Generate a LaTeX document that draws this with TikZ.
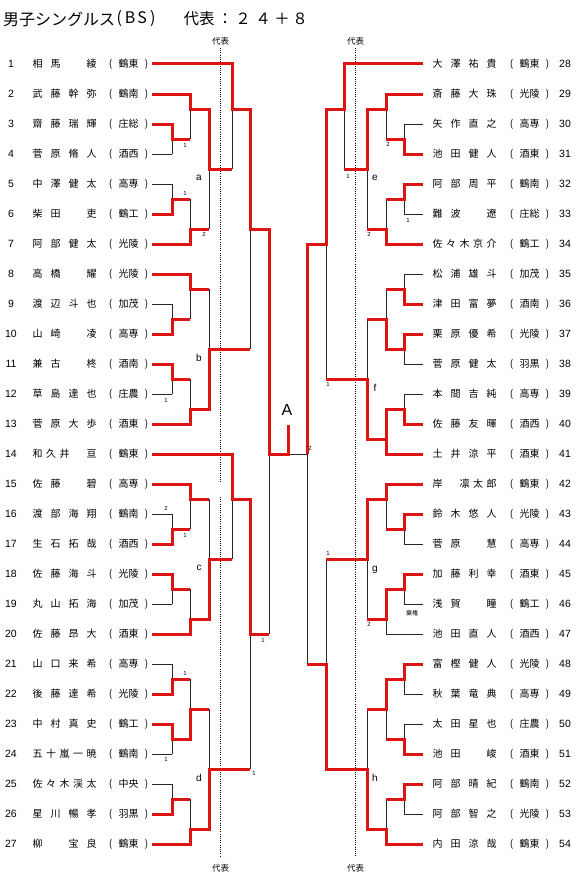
\documentclass[tikz,border=0pt]{standalone}
\usepackage{fontspec}
\setmainfont{Liberation Sans}
\newfontfamily\jp{Noto Sans CJK JP}
\definecolor{rd}{RGB}{222,20,20}
\newcommand\Fo[4]{\makebox[18pt]{#1}\makebox[18pt]{#2}\makebox[18pt]{#3}\makebox[18pt]{#4}}
\newcommand\Fv[5]{\hspace*{2.25pt}\makebox[13.5pt]{#1}\makebox[13.5pt]{#2}\makebox[13.5pt]{#3}\makebox[13.5pt]{#4}\makebox[13.5pt]{#5}}
\newcommand\Tm[1]{\makebox[6pt]{(}\hspace{5pt}#1\hspace{5pt}\makebox[6pt]{)}}
\newcommand\PL[4]{\node[numl] (nl#1) at (11,#2) {#1};\node[nml] (pl#1) at (28.5,#2) {#3};\node[tml] (tl#1) at (128.5,#2) {\Tm{#4}};}
\newcommand\PR[4]{\node[numl] (nr#1) at (565,#2) {#1};\node[nml] (pr#1) at (428.5,#2) {#3};\node[tml] (tr#1) at (529.5,#2) {\Tm{#4}};}
\begin{document}
\begin{tikzpicture}[x=1pt,y=-1pt]
\tikzset{
  bl/.style={line width=0.9pt, draw=black!85},
  rw/.style={line width=3pt, draw=rd, line join=miter},
  rep/.style={line width=0.7pt, dash pattern=on 1pt off 1.2pt},
  numl/.style={font=\fontsize{10.5}{12}\selectfont, inner sep=0pt},
  nml/.style={font=\jp\fontsize{10}{12}\selectfont, inner sep=0pt, anchor=west},
  tml/.style={font=\jp\fontsize{10}{12}\selectfont, inner sep=0pt},
  scr/.style={font=\fontsize{6}{7}\selectfont, inner sep=0pt},
  blk/.style={font=\fontsize{10}{12}\selectfont, inner sep=0pt},
  ttl/.style={font=\jp\fontsize{15.5}{18}\selectfont, inner sep=0pt},
  rpl/.style={font=\jp\fontsize{8.5}{10}\selectfont, inner sep=0pt}
}
\useasboundingbox[fill=white] (0,0) rectangle (580,875);

% title
\node[anchor=west, inner sep=0pt, font=\jp\fontsize{16}{18}\selectfont] (t1) at (3,19) {男子シングルス};
\node[inner sep=0pt, font=\jp\fontsize{16}{18}\selectfont] (t2) at (136,19) {(\hspace{3pt}B\hspace{2pt}S\hspace{3pt})};
\node[ttl] (t3) at (199,19) {代表};
\node[ttl] (t4) at (225,19) {：};
\node[ttl] (t5) at (243,19) {２};
\node[ttl] (t6) at (263,19) {４};
\node[ttl] (t7) at (282,19) {＋};
\node[ttl] (t8) at (300,19) {８};

% representative dotted lines
\node[rpl] (dl1) at (220.5,41) {代表};
\node[rpl] (dl2) at (220.5,868) {代表};
\node[rpl] (dr1) at (355.5,41) {代表};
\node[rpl] (dr2) at (355.5,868) {代表};
\draw[rep] (220.5,48) -- (220.5,483) (220.5,497) -- (220.5,857);
\draw[rep] (355.5,48) -- (355.5,857);

% players left
\PL{1}{64}{\Fo{相}{馬}{}{綾}}{鶴東}
\PL{2}{94}{\Fo{武}{藤}{幹}{弥}}{鶴南}
\PL{3}{124}{\Fo{齋}{藤}{瑞}{輝}}{庄総}
\PL{4}{154}{\Fo{菅}{原}{脩}{人}}{酒西}
\PL{5}{184}{\Fo{中}{澤}{健}{太}}{高専}
\PL{6}{214}{\Fo{柴}{田}{}{吏}}{鶴工}
\PL{7}{244}{\Fo{阿}{部}{健}{太}}{光陵}
\PL{8}{274}{\Fo{高}{橋}{}{耀}}{光陵}
\PL{9}{304}{\Fo{渡}{辺}{斗}{也}}{加茂}
\PL{10}{334}{\Fo{山}{崎}{}{凌}}{高専}
\PL{11}{364}{\Fo{兼}{古}{}{柊}}{酒南}
\PL{12}{394}{\Fo{草}{島}{達}{也}}{庄農}
\PL{13}{424}{\Fo{菅}{原}{大}{歩}}{酒東}
\PL{14}{454}{\Fv{和}{久}{井}{}{亘}}{鶴東}
\PL{15}{484}{\Fo{佐}{藤}{}{碧}}{高専}
\PL{16}{514}{\Fo{渡}{部}{海}{翔}}{鶴南}
\PL{17}{544}{\Fo{生}{石}{拓}{哉}}{酒西}
\PL{18}{574}{\Fo{佐}{藤}{海}{斗}}{光陵}
\PL{19}{604}{\Fo{丸}{山}{拓}{海}}{加茂}
\PL{20}{634}{\Fo{佐}{藤}{昂}{大}}{酒東}
\PL{21}{664}{\Fo{山}{口}{来}{希}}{高専}
\PL{22}{694}{\Fo{後}{藤}{達}{希}}{光陵}
\PL{23}{724}{\Fo{中}{村}{真}{史}}{鶴工}
\PL{24}{754}{\Fv{五}{十}{嵐}{一}{暁}}{鶴南}
\PL{25}{784}{\Fv{佐}{々}{木}{渓}{太}}{中央}
\PL{26}{814}{\Fo{星}{川}{暢}{孝}}{羽黒}
\PL{27}{844}{\Fo{柳}{}{宝}{良}}{鶴東}

% players right
\PR{28}{64}{\Fo{大}{澤}{祐}{貴}}{鶴東}
\PR{29}{94}{\Fo{斎}{藤}{大}{珠}}{光陵}
\PR{30}{124}{\Fo{矢}{作}{直}{之}}{高専}
\PR{31}{154}{\Fo{池}{田}{健}{人}}{酒東}
\PR{32}{184}{\Fo{阿}{部}{周}{平}}{鶴南}
\PR{33}{214}{\Fo{難}{波}{}{遼}}{庄総}
\PR{34}{244}{\Fv{佐}{々}{木}{京}{介}}{鶴工}
\PR{35}{274}{\Fo{松}{浦}{雄}{斗}}{加茂}
\PR{36}{304}{\Fo{津}{田}{富}{夢}}{酒南}
\PR{37}{334}{\Fo{栗}{原}{優}{希}}{光陵}
\PR{38}{364}{\Fo{菅}{原}{健}{太}}{羽黒}
\PR{39}{394}{\Fo{本}{間}{吉}{純}}{高専}
\PR{40}{424}{\Fo{佐}{藤}{友}{暉}}{酒西}
\PR{41}{454}{\Fo{土}{井}{涼}{平}}{酒東}
\PR{42}{484}{\Fv{岸}{}{凛}{太}{郎}}{鶴東}
\PR{43}{514}{\Fo{鈴}{木}{悠}{人}}{光陵}
\PR{44}{544}{\Fo{菅}{原}{}{慧}}{高専}
\PR{45}{574}{\Fo{加}{藤}{利}{幸}}{酒東}
\PR{46}{604}{\Fo{浅}{賀}{}{瞳}}{鶴工}
\PR{47}{634}{\Fo{池}{田}{直}{人}}{酒西}
\PR{48}{664}{\Fo{富}{樫}{健}{人}}{光陵}
\PR{49}{694}{\Fo{秋}{葉}{竜}{典}}{高専}
\PR{50}{724}{\Fo{太}{田}{星}{也}}{庄農}
\PR{51}{754}{\Fo{池}{田}{}{峻}}{酒東}
\PR{52}{784}{\Fo{阿}{部}{晴}{紀}}{鶴南}
\PR{53}{814}{\Fo{阿}{部}{智}{之}}{光陵}
\PR{54}{844}{\Fo{内}{田}{涼}{哉}}{鶴東}

% thin lines: losers' entries
\foreach \y in {154,184,304,394,514,604,664,754,784} \draw[bl] (152,\y) -- (172,\y);
\foreach \y in {124,214,274,364,394,544,604,694,724,814} \draw[bl] (423,\y) -- (404,\y);
\draw[bl] (423,634) -- (386,634);
% thin lines: match verticals left
\foreach \a/\b in {124/154,184/214,304/334,364/394,514/544,574/604,664/694,724/754,784/814} \draw[bl] (172,\a) -- (172,\b);
\foreach \a/\b in {94/139,199/244,274/319,379/424,484/529,589/634,679/739,799/844} \draw[bl] (190,\a) -- (190,\b);
\foreach \a/\b in {109/229,289/409,499/619,709/829} \draw[bl] (209,\a) -- (209,\b);
\foreach \a/\b in {64/169,454/559} \draw[bl] (232,\a) -- (232,\b);
\foreach \a/\b in {109/349,499/769} \draw[bl] (250,\a) -- (250,\b);
\draw[bl] (269,229) -- (269,634);
% thin lines: match verticals right
\foreach \a/\b in {124/154,184/214,274/304,334/364,394/424,514/544,574/604,664/694,724/754,784/814} \draw[bl] (404,\a) -- (404,\b);
\foreach \a/\b in {94/139,199/244,289/349,409/454,484/529,589/634,679/739,799/844} \draw[bl] (386,\a) -- (386,\b);
\foreach \a/\b in {109/229,319/439,499/619,709/829} \draw[bl] (367,\a) -- (367,\b);
\draw[bl] (344,64) -- (344,169);
\foreach \a/\b in {109/379,559/769} \draw[bl] (326,\a) -- (326,\b);
\draw[bl] (307,244) -- (307,664);
% final
\draw[bl] (269,454) -- (307,454);

% red winner paths left
\draw[rw] (152,64) -- (232,64) -- (232,109) -- (250,109) -- (250,229) -- (269,229) -- (269,454) -- (288,454) -- (288,425);
\draw[rw] (152,94) -- (190,94) -- (190,109) -- (209,109) -- (209,169) -- (232,169);
\draw[rw] (152,124) -- (172,124) -- (172,139) -- (190,139);
\draw[rw] (152,214) -- (172,214) -- (172,199) -- (190,199);
\draw[rw] (152,244) -- (190,244) -- (190,229) -- (209,229);
\draw[rw] (152,274) -- (190,274) -- (190,289) -- (209,289);
\draw[rw] (152,334) -- (172,334) -- (172,319) -- (190,319);
\draw[rw] (152,364) -- (172,364) -- (172,379) -- (190,379);
\draw[rw] (152,424) -- (190,424) -- (190,409) -- (209,409) -- (209,349) -- (250,349);
\draw[rw] (152,454) -- (232,454) -- (232,499) -- (250,499) -- (250,634) -- (269,634);
\draw[rw] (152,484) -- (190,484) -- (190,499) -- (209,499);
\draw[rw] (152,544) -- (172,544) -- (172,529) -- (190,529);
\draw[rw] (152,574) -- (172,574) -- (172,589) -- (190,589);
\draw[rw] (152,634) -- (190,634) -- (190,619) -- (209,619) -- (209,559) -- (232,559);
\draw[rw] (152,694) -- (172,694) -- (172,679) -- (190,679);
\draw[rw] (152,724) -- (172,724) -- (172,739) -- (190,739) -- (190,709) -- (209,709);
\draw[rw] (152,814) -- (172,814) -- (172,799) -- (190,799);
\draw[rw] (152,844) -- (190,844) -- (190,829) -- (209,829) -- (209,769) -- (250,769);

% red winner paths right
\draw[rw] (423,64) -- (344,64) -- (344,109) -- (326,109) -- (326,244) -- (307,244) -- (307,454);
\draw[rw] (423,94) -- (386,94) -- (386,109) -- (367,109) -- (367,169) -- (344,169);
\draw[rw] (423,154) -- (404,154) -- (404,139) -- (386,139);
\draw[rw] (423,184) -- (404,184) -- (404,199) -- (386,199);
\draw[rw] (423,244) -- (386,244) -- (386,229) -- (367,229);
\draw[rw] (423,304) -- (404,304) -- (404,289) -- (386,289);
\draw[rw] (423,334) -- (404,334) -- (404,349) -- (386,349) -- (386,319) -- (367,319);
\draw[rw] (423,424) -- (404,424) -- (404,409) -- (386,409) -- (386,439);
\draw[rw] (423,454) -- (386,454) -- (386,439) -- (367,439) -- (367,379) -- (326,379);
\draw[rw] (423,484) -- (386,484) -- (386,499) -- (367,499) -- (367,559) -- (326,559);
\draw[rw] (423,514) -- (404,514) -- (404,529) -- (386,529);
\draw[rw] (423,574) -- (404,574) -- (404,589) -- (386,589) -- (386,619) -- (367,619);
\draw[rw] (423,664) -- (404,664) -- (404,679) -- (386,679) -- (386,709) -- (367,709);
\draw[rw] (423,754) -- (404,754) -- (404,739) -- (386,739);
\draw[rw] (423,784) -- (404,784) -- (404,799) -- (386,799);
\draw[rw] (423,844) -- (386,844) -- (386,829) -- (367,829) -- (367,769) -- (326,769) -- (326,664) -- (307,664);

% champion mark
\node[inner sep=0pt, font=\fontsize{16}{18}\selectfont] (champ) at (287,410) {A};

% block letters
\node[blk] (ba) at (199,178) {a};
\node[blk] (bb) at (199,358) {b};
\node[blk] (bc) at (199,568) {c};
\node[blk] (bd) at (199,778) {d};
\node[blk] (be) at (375,178) {e};
\node[blk] (bf) at (375,388) {f};
\node[blk] (bg) at (375,570) {g};
\node[blk] (bh) at (375,778) {h};

% scores left
\node[scr] (s1) at (185,145) {1};
\node[scr] (s2) at (185,193) {1};
\node[scr] (s3) at (204,234) {2};
\node[scr] (s4) at (166,400) {1};
\node[scr] (s5) at (166,508) {2};
\node[scr] (s6) at (185,535) {1};
\node[scr] (s7) at (263,640) {1};
\node[scr] (s8) at (185,673) {1};
\node[scr] (s9) at (166,759) {1};
\node[scr] (s10) at (254,773) {1};
% scores right
\node[scr] (s11) at (388,144) {2};
\node[scr] (s12) at (348,176) {1};
\node[scr] (s13) at (408,220) {1};
\node[scr] (s14) at (369,234) {2};
\node[scr] (s15) at (328,384) {1};
\node[scr] (s16) at (310,448) {2};
\node[scr] (s17) at (328,553) {1};
\node[scr] (s18) at (369,624) {2};
\node[inner sep=0pt, font=\jp\fontsize{6}{7}\selectfont] (s19) at (412,613) {棄権};
\end{tikzpicture}
\end{document}
